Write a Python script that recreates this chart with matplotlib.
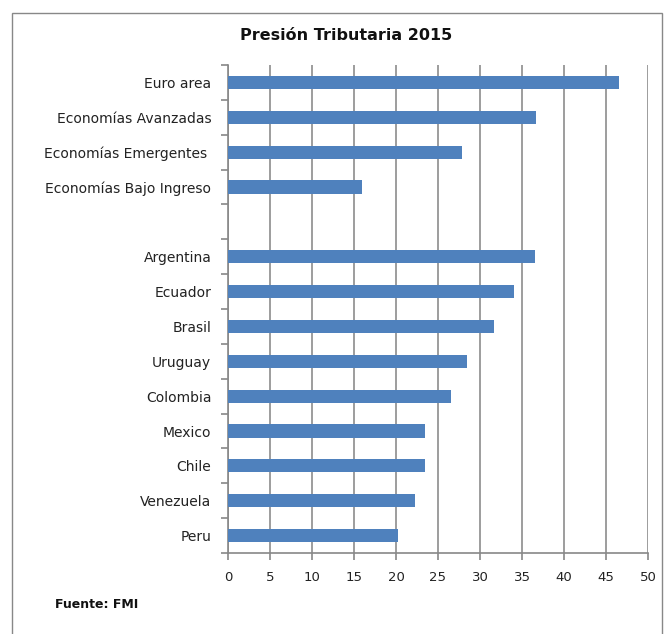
import numpy as np
import matplotlib.pyplot as plt
from matplotlib.patches import Rectangle

# Datos (% del PIB)
grupos = ["Euro area", "Economías Avanzadas", "Economías Emergentes ", "Economías Bajo Ingreso"]
valores_grupos = [46.6, 36.7, 27.8, 16.0]

paises = ["Argentina", "Ecuador", "Brasil", "Uruguay", "Colombia",
          "Mexico", "Chile", "Venezuela", "Peru"]
valores_paises = [36.5, 34.0, 31.7, 28.4, 26.6, 23.5, 23.5, 22.3, 20.2]

xticks = [0, 5, 10, 15, 20, 25, 30, 35, 40, 45, 50]

# posiciones: grupos arriba, un hueco, luego paises
pos_grupos = np.arange(len(grupos))
pos_paises = np.arange(len(paises)) + len(grupos) + 1
n_slots = len(grupos) + 1 + len(paises)

fig = plt.figure(figsize=(6.65, 6.34), dpi=100)
ax = fig.add_axes([228 / 665, 1 - 553 / 634, 420 / 665, 488 / 634])

color = "#4F81BD"
ax.barh(pos_grupos, valores_grupos, height=0.38, color=color, zorder=3)
ax.barh(pos_paises, valores_paises, height=0.38, color=color, zorder=3)

ax.set_xlim(0, 50)
ax.set_ylim(n_slots - 0.5, -0.5)
ax.set_xticks(xticks)
ax.set_xticklabels([str(t) for t in xticks], fontsize=9.5, color="#222222")

ax.set_yticks(np.concatenate([pos_grupos, pos_paises]))
ax.set_yticklabels(grupos + paises, fontsize=10, color="#222222")
ax.set_yticks(np.arange(n_slots + 1) - 0.5, minor=True)
ax.tick_params(axis="y", which="major", length=0, pad=12)
ax.tick_params(axis="y", which="minor", length=5, width=1.2, color="#888888", direction="out")
ax.tick_params(axis="x", length=5, width=1.2, color="#888888", pad=8)

ax.grid(axis="x", color="#959595", linewidth=1.3, zorder=0)
for s in ["top", "right"]:
    ax.spines[s].set_visible(False)
for s in ["left", "bottom"]:
    ax.spines[s].set_color("#888888")
    ax.spines[s].set_linewidth(1.2)

fig.text(346 / 665, 1 - 35 / 634, "Presión Tributaria 2015", ha="center", va="center",
         fontsize=11.5, fontweight="bold", color="#111111")
fig.text(55 / 665, 1 - 605 / 634, "Fuente: FMI", ha="left", va="center",
         fontsize=9, fontweight="bold", color="#111111")

# borde del area del grafico
fig.patches.append(Rectangle((12 / 665, -0.05), (662 - 12) / 665, 1.05 - 13 / 634,
                             transform=fig.transFigure, fill=False,
                             edgecolor="#888888", linewidth=1.0))

fig.savefig("out.png", dpi=100)
